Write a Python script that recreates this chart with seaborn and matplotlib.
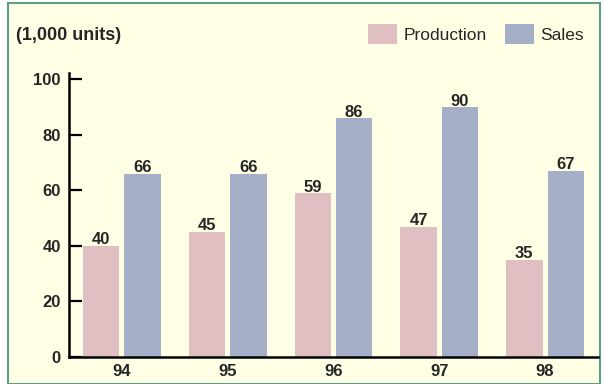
import matplotlib
matplotlib.use("Agg")
import matplotlib.pyplot as plt
import seaborn as sns
import pandas as pd
from matplotlib.patches import Rectangle
from matplotlib import font_manager

years = ["94", "95", "96", "97", "98"]
production = [40, 45, 59, 47, 35]
sales = [66, 66, 86, 90, 67]
series = ["Production", "Sales"]
colors = ["#E0BFC3", "#A5AFC8"]
yticks = [0, 20, 40, 60, 80, 100]

df = pd.DataFrame({
    "year": years * 2,
    "value": production + sales,
    "series": [series[0]] * len(years) + [series[1]] * len(years),
})

sns.set_theme(style="white")
plt.rcParams["font.family"] = ["Liberation Sans", "DejaVu Sans"]
avail = {f.name for f in font_manager.fontManager.ttflist}
if "Liberation Sans Narrow" in avail:
    leg_font, leg_size = "Liberation Sans Narrow", 14.5
else:
    leg_font, leg_size = "Liberation Sans", 12.5

bg = "#FFFFE6"
fig = plt.figure(figsize=(6.04, 3.84), dpi=100, facecolor="white")
fig.patches.append(Rectangle((8 / 604, 0), 592 / 604, 1 - 3 / 384, transform=fig.transFigure,
                             facecolor=bg, edgecolor="#5E9C8C", linewidth=1.5, zorder=-10))
ax = fig.add_axes([69 / 604, 1 - 357 / 384, 529 / 604, (357 - 72.7) / 384])
ax.set_facecolor("none")

sns.barplot(data=df, x="year", y="value", hue="series", palette=colors,
            width=0.784, gap=0.12, ax=ax, saturation=1, edgecolor="none", legend=True)

for c in ax.containers:
    ax.bar_label(c, fmt="%d", padding=-1, fontsize=12, fontweight="bold")

ax.set_xlim(-0.5, 4.5)
ax.set_ylim(0, 102.4)
ax.set_yticks(yticks)
ax.set_xlabel("")
ax.set_ylabel("")
for s in ["top", "right"]:
    ax.spines[s].set_visible(False)
for s in ["left", "bottom"]:
    ax.spines[s].set_color("black")
    ax.spines[s].set_linewidth(1.8)
ax.tick_params(axis="y", left=True, direction="in", length=9, width=1.6, color="black",
               pad=5.8, labelsize=12)
ax.tick_params(axis="x", bottom=False, length=0, pad=5, labelsize=12)
for lab in ax.get_xticklabels() + ax.get_yticklabels():
    lab.set_fontweight("bold")

sns.move_legend(ax, "upper left", bbox_to_anchor=(368 / 604, 1 - 24 / 384),
                bbox_transform=fig.transFigure, ncol=2, frameon=False, title=None,
                borderpad=0, borderaxespad=0,
                handlelength=1.67, handleheight=1.38, columnspacing=1.0, handletextpad=0.4,
                prop={"family": leg_font, "size": leg_size})

fig.text(16 / 604, 1 - 35 / 384, "(1,000 units)", fontsize=13, fontweight="bold",
         va="center", ha="left")

fig.savefig("out.png", dpi=100, facecolor="white")
